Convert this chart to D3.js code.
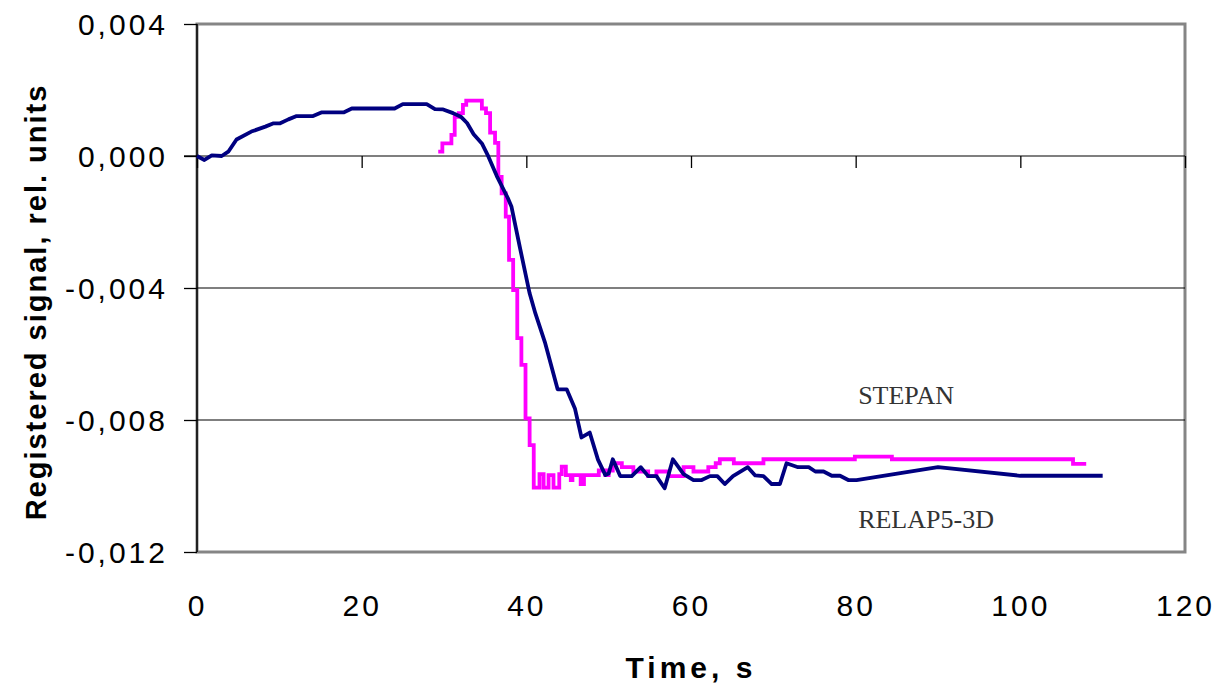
<!DOCTYPE html>
<html><head><meta charset="utf-8">
<script src="https://cdn.jsdelivr.net/npm/d3@7"></script>
<style>body{margin:0;background:#fff}</style></head>
<body>
<svg id="chart" width="1216" height="685"></svg>
<script>
// ---- data (time in s, signal in rel. units) ----
const stepanTime = [0, 0.9, 1.8, 3, 3.8, 4.8, 6.6, 8.3, 9.3, 10.1, 11.1, 12.1, 14.1, 15.1, 17.8, 18.8, 24.0, 25.0, 27.9, 28.9, 29.9, 31.1, 32.1, 32.8, 33.6, 34.6, 35.4, 36.4, 37.8, 38.2, 39.2, 40.4, 41.1, 42.3, 43.8, 44.9, 45.9, 46.7, 47.7, 48.7, 49.6, 50.0, 50.5, 51.4, 52.8, 53.9, 54.8, 55.8, 56.8, 57.8, 59.1, 60.3, 61.3, 62.3, 63.2, 64.1, 65.1, 66.9, 67.8, 68.8, 69.8, 70.8, 71.6, 73.0, 74.3, 75.1, 76.1, 77.1, 78.1, 79.1, 80.1, 90, 100, 110];
const stepanSignal = [0, -0.00012, 0.00002, 0, 0.00013, 0.0005, 0.00074, 0.00089, 0.00099, 0.00099, 0.00111, 0.00121, 0.00121, 0.00132, 0.00132, 0.00144, 0.00144, 0.00157, 0.00157, 0.00142, 0.00141, 0.0013, 0.00118, 0.001, 0.00066, 0.00038, -0.00002, -0.0006, -0.0013, -0.00154, -0.00275, -0.00416, -0.00477, -0.00568, -0.00707, -0.00707, -0.00765, -0.00853, -0.00838, -0.0092, -0.00967, -0.00962, -0.00919, -0.0097, -0.0097, -0.00943, -0.0097, -0.0097, -0.01007, -0.00919, -0.00964, -0.00982, -0.00982, -0.0097, -0.0097, -0.00994, -0.0097, -0.00943, -0.00968, -0.0097, -0.00994, -0.00994, -0.00931, -0.00943, -0.00943, -0.00956, -0.00956, -0.00969, -0.00969, -0.00982, -0.00982, -0.00943, -0.00969, -0.00969];
const relapTime = [29.3, 29.8, 30.9, 31.3, 31.8, 32.3, 32.7, 34.6, 35.1, 35.6, 36.2, 36.6, 37.0, 37.5, 37.9, 38.4, 38.9, 39.4, 39.9, 40.4, 40.9, 41.6, 42.1, 42.7, 43.3, 44.0, 44.3, 44.8, 45.4, 45.6, 46.6, 47.0, 48.8, 49.6, 50.0, 50.5, 51.6, 53.0, 54.8, 55.8, 57.3, 59.1, 60.3, 62.1, 63.0, 63.5, 65.2, 68.8, 79.9, 84.4, 106.4, 108.0];
const relapSignal = [0.00013, 0.00038, 0.00064, 0.00119, 0.0013, 0.00155, 0.00168, 0.00144, 0.0013, 0.00071, 0.0004, -0.00063, -0.00113, -0.00184, -0.00315, -0.00406, -0.00552, -0.00633, -0.00795, -0.00876, -0.01005, -0.00964, -0.01005, -0.00967, -0.01005, -0.00964, -0.00941, -0.00967, -0.00982, -0.00967, -0.00994, -0.00967, -0.00953, -0.00967, -0.00953, -0.00931, -0.00943, -0.00956, -0.0097, -0.00956, -0.0097, -0.00943, -0.00956, -0.00943, -0.00931, -0.00919, -0.00931, -0.00919, -0.00911, -0.00919, -0.00933, -0.00933];
const xTickValues = [0, 20, 40, 60, 80, 100, 120];
const yTickValues = [0.004, 0, -0.004, -0.008, -0.012];
const gridValues = [0, -0.004, -0.008];
const seriesNames = ["STEPAN", "RELAP5-3D"];
const xTitle = "Time, s";
const yTitle = "Registered signal, rel. units";

// ---- layout ----
const svg = d3.select("#chart");
const L = 197, R = 1185, T = 24, B = 552;
const x = d3.scaleLinear().domain([0, 120]).range([L, R]);
const y = d3.scaleLinear().domain([-0.012, 0.004]).range([B, T]);
const loc = d3.formatLocale({decimal: ",", thousands: " ", grouping: [3], currency: ["", ""], minus: "-"});
const fmt = loc.format(".3f");
const sans = "'Liberation Sans', Arial, sans-serif";
const serif = "'Liberation Serif', 'Times New Roman', serif";

// plot frame (grey)
svg.append("rect").attr("x", L).attr("y", T).attr("width", R - L).attr("height", B - T)
  .attr("fill", "#fff").attr("stroke", "#858585").attr("stroke-width", 3);

// grid lines
svg.append("g").selectAll("line").data(gridValues).join("line")
  .attr("x1", L).attr("x2", R).attr("y1", d => y(d)).attr("y2", d => y(d))
  .attr("stroke", "#000").attr("stroke-width", 1.2);

// y axis
const yAxis = svg.append("g").attr("transform", `translate(${L},0)`)
  .call(d3.axisLeft(y).tickValues(yTickValues).tickFormat(fmt).tickSize(13).tickPadding(16));
yAxis.select(".domain").remove();
yAxis.append("line").attr("x1", 0).attr("x2", 0).attr("y1", T).attr("y2", B).attr("stroke", "#000").attr("stroke-width", 1.5);
yAxis.selectAll(".tick line").attr("stroke", "#000").attr("stroke-width", 1.3);
yAxis.selectAll("text").attr("font-family", sans)
  .attr("font-size", 30).attr("fill", "#000").attr("letter-spacing", 3).attr("dy", "0.36em");

// x axis at zero line (ticks only)
const xAxis0 = svg.append("g").attr("transform", `translate(0,${y(0)})`)
  .call(d3.axisBottom(x).tickValues(xTickValues).tickSize(12).tickFormat(""));
xAxis0.select(".domain").remove();
xAxis0.selectAll(".tick line").attr("stroke", "#000").attr("stroke-width", 1.3);
svg.append("line").attr("x1", L - 13).attr("x2", L).attr("y1", y(0)).attr("y2", y(0)).attr("stroke", "#000").attr("stroke-width", 1.3);

// x tick labels at the bottom
const xAxisB = svg.append("g").attr("transform", `translate(0,${B})`)
  .call(d3.axisBottom(x).tickValues(xTickValues).tickSize(0).tickPadding(43).tickFormat(d3.format("d")));
xAxisB.select(".domain").remove();
xAxisB.selectAll("text").attr("font-family", sans)
  .attr("font-size", 30).attr("fill", "#000").attr("letter-spacing", 3);

// series
const stepanData = stepanTime.map((t, i) => [t, stepanSignal[i]]);
const relapData = relapTime.map((t, i) => [t, relapSignal[i]]);
svg.append("path").datum(relapData)
  .attr("d", d3.line().x(d => x(d[0])).y(d => y(d[1])).curve(d3.curveStepAfter))
  .attr("fill", "none").attr("stroke", "#ff00ff").attr("stroke-width", 3.8).attr("stroke-linejoin", "miter");
svg.append("path").datum(stepanData)
  .attr("d", d3.line().x(d => x(d[0])).y(d => y(d[1])))
  .attr("fill", "none").attr("stroke", "#000080").attr("stroke-width", 3.8).attr("stroke-linejoin", "round");

// series labels
svg.append("text").attr("x", x(80.3)).attr("y", y(-0.00752)).text(seriesNames[0])
  .attr("font-family", serif).attr("font-size", 26).attr("fill", "#333");
svg.append("text").attr("x", x(80.3)).attr("y", y(-0.01128)).text(seriesNames[1])
  .attr("font-family", serif).attr("font-size", 26).attr("fill", "#333");

// axis titles
svg.append("text").attr("x", x(60)).attr("y", 678).attr("text-anchor", "middle").text(xTitle)
  .attr("font-family", sans).attr("font-weight", "bold").attr("font-size", 30).attr("letter-spacing", 4);
svg.append("text").attr("transform", `translate(46,${(T + B) / 2 + 14}) rotate(-90)`).attr("text-anchor", "middle").text(yTitle)
  .attr("font-family", sans).attr("font-weight", "bold").attr("font-size", 29).attr("letter-spacing", 2);
</script>
</body></html>
